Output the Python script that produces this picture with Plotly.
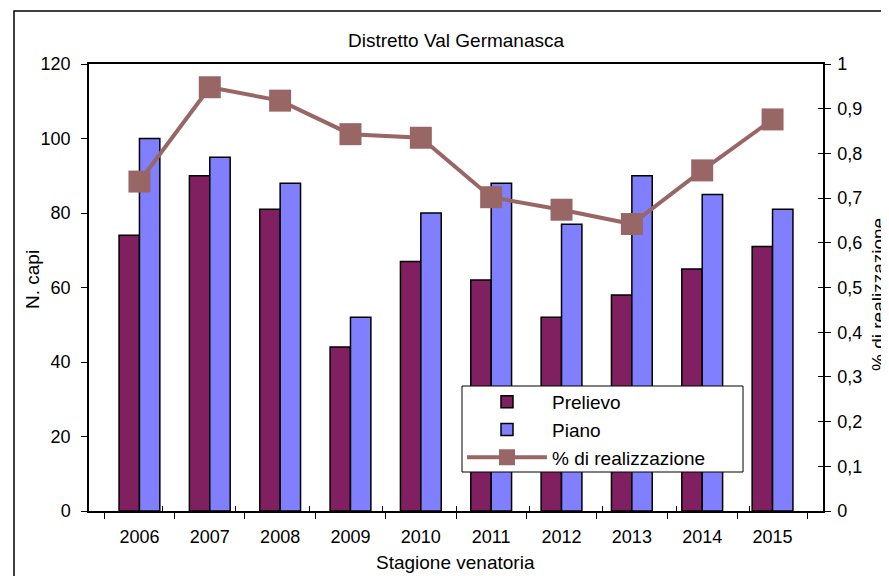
import plotly.graph_objects as go

years = ["2006", "2007", "2008", "2009", "2010", "2011", "2012", "2013", "2014", "2015"]
prelievo = [74, 90, 81, 44, 67, 62, 52, 58, 65, 71]
piano = [100, 95, 88, 52, 80, 88, 77, 90, 85, 81]
realizzazione = [0.737, 0.948, 0.918, 0.843, 0.835, 0.702, 0.674, 0.642, 0.762, 0.876]

OFF = 8  # page body margin
W, H = 889 - OFF, 576 - OFF
L, R, T, B = 89 - OFF, 823 - OFF, 64 - OFF, 511 - OFF
pw, ph = R - L, B - T

def px(x):
    return (x - OFF - L) / pw

def py(y):
    return (B - (y - OFF)) / ph

FONT = "Liberation Sans, Arial, sans-serif"

fig = go.Figure()
fig.add_trace(go.Bar(x=years, y=prelievo, name="Prelievo",
                     marker=dict(color="#802060", line=dict(color="black", width=1.5)),
                     legendgroup="a"))
fig.add_trace(go.Bar(x=years, y=piano, name="Piano",
                     marker=dict(color="#8080FF", line=dict(color="black", width=1.5)),
                     legendgroup="b"))
fig.add_trace(go.Scatter(x=years, y=realizzazione, name="% di realizzazione", yaxis="y2",
                         mode="lines+markers",
                         line=dict(color="#996666", width=4),
                         marker=dict(symbol="square", size=22, color="#996666"),
                         legendgroup="c"))
# helper (empty) trace to materialise the cross-tick overlay axes
fig.add_trace(go.Scatter(x=[], y=[], xaxis="x2", yaxis="y3", showlegend=False, hoverinfo="skip"))

boundaries = [i - 0.5 for i in range(len(years) + 1)]

fig.update_layout(
    width=W, height=H, autosize=False,
    margin=dict(l=L, r=W - R, t=T, b=H - B, pad=0),
    paper_bgcolor="white", plot_bgcolor="white",
    font=dict(family=FONT, size=18, color="black"),
    separators=", ",
    barmode="group", bargap=0.42, bargroupgap=0,
    showlegend=True,
    title=dict(text="Distretto Val Germanasca", x=0.5, xref="paper", xanchor="center",
               y=1 - (40 - OFF) / H, yref="container", yanchor="middle",
               font=dict(family=FONT, size=19, color="black")),
    xaxis=dict(type="category", tickson="boundaries", ticks="outside", ticklen=6,
               tickcolor="black", tickwidth=1.2,
               showline=True, linecolor="black", linewidth=1.5, mirror=True,
               showgrid=False, tickfont=dict(size=18), ticklabelstandoff=9),
    xaxis2=dict(overlaying="x", anchor="y", range=[-0.5, len(years) - 0.5],
                tickvals=boundaries, ticks="inside", ticklen=5, tickcolor="black", tickwidth=1.2,
                showticklabels=False, showline=False, showgrid=False, zeroline=False),
    yaxis=dict(range=[0, 120], dtick=20, ticks="outside", ticklen=6, tickcolor="black",
               tickwidth=1.2, showline=True, linecolor="black", linewidth=1.5,
               showgrid=False, zeroline=False, tickfont=dict(size=18), ticklabelstandoff=7),
    yaxis2=dict(overlaying="y", side="right", range=[0, 1], dtick=0.1,
                ticks="outside", ticklen=6, tickcolor="black", tickwidth=1.2,
                showline=True, linecolor="black", linewidth=1.5,
                showgrid=False, zeroline=False, tickfont=dict(size=18), ticklabelstandoff=3),
    yaxis3=dict(overlaying="y", side="right", anchor="x", range=[0, 1], dtick=0.1,
                ticks="inside", ticklen=5, tickcolor="black", tickwidth=1.2,
                showticklabels=False, showline=False, showgrid=False, zeroline=False),
    legend=dict(x=px(462), y=py(383), xanchor="left", yanchor="top",
                bgcolor="rgba(0,0,0,0)", borderwidth=0,
                font=dict(size=19), itemwidth=80, traceorder="grouped", tracegroupgap=0),
    annotations=[
        dict(text="Stagione venatoria", x=px(455), y=py(562), xref="paper", yref="paper",
             xanchor="center", yanchor="middle", showarrow=False, font=dict(size=19)),
        dict(text="N. capi", x=px(32), y=py(280), xref="paper", yref="paper",
             xanchor="center", yanchor="middle", textangle=-90, showarrow=False,
             font=dict(size=19)),
        dict(text="% di realizzazione", x=px(878), y=py(295), xref="paper", yref="paper",
             xanchor="center", yanchor="middle", textangle=-90, showarrow=False,
             font=dict(size=19)),
    ],
    shapes=[
        dict(type="rect", xref="paper", yref="paper",
             x0=px(14), y0=py(590), x1=px(900), y1=py(11),
             line=dict(color="black", width=1.5), fillcolor="rgba(0,0,0,0)", layer="below"),
        dict(type="rect", xref="paper", yref="paper",
             x0=px(462), y0=py(472), x1=px(743), y1=py(386),
             line=dict(color="black", width=1), fillcolor="white", layer="above"),
    ],
)

fig.write_html("out.html")
